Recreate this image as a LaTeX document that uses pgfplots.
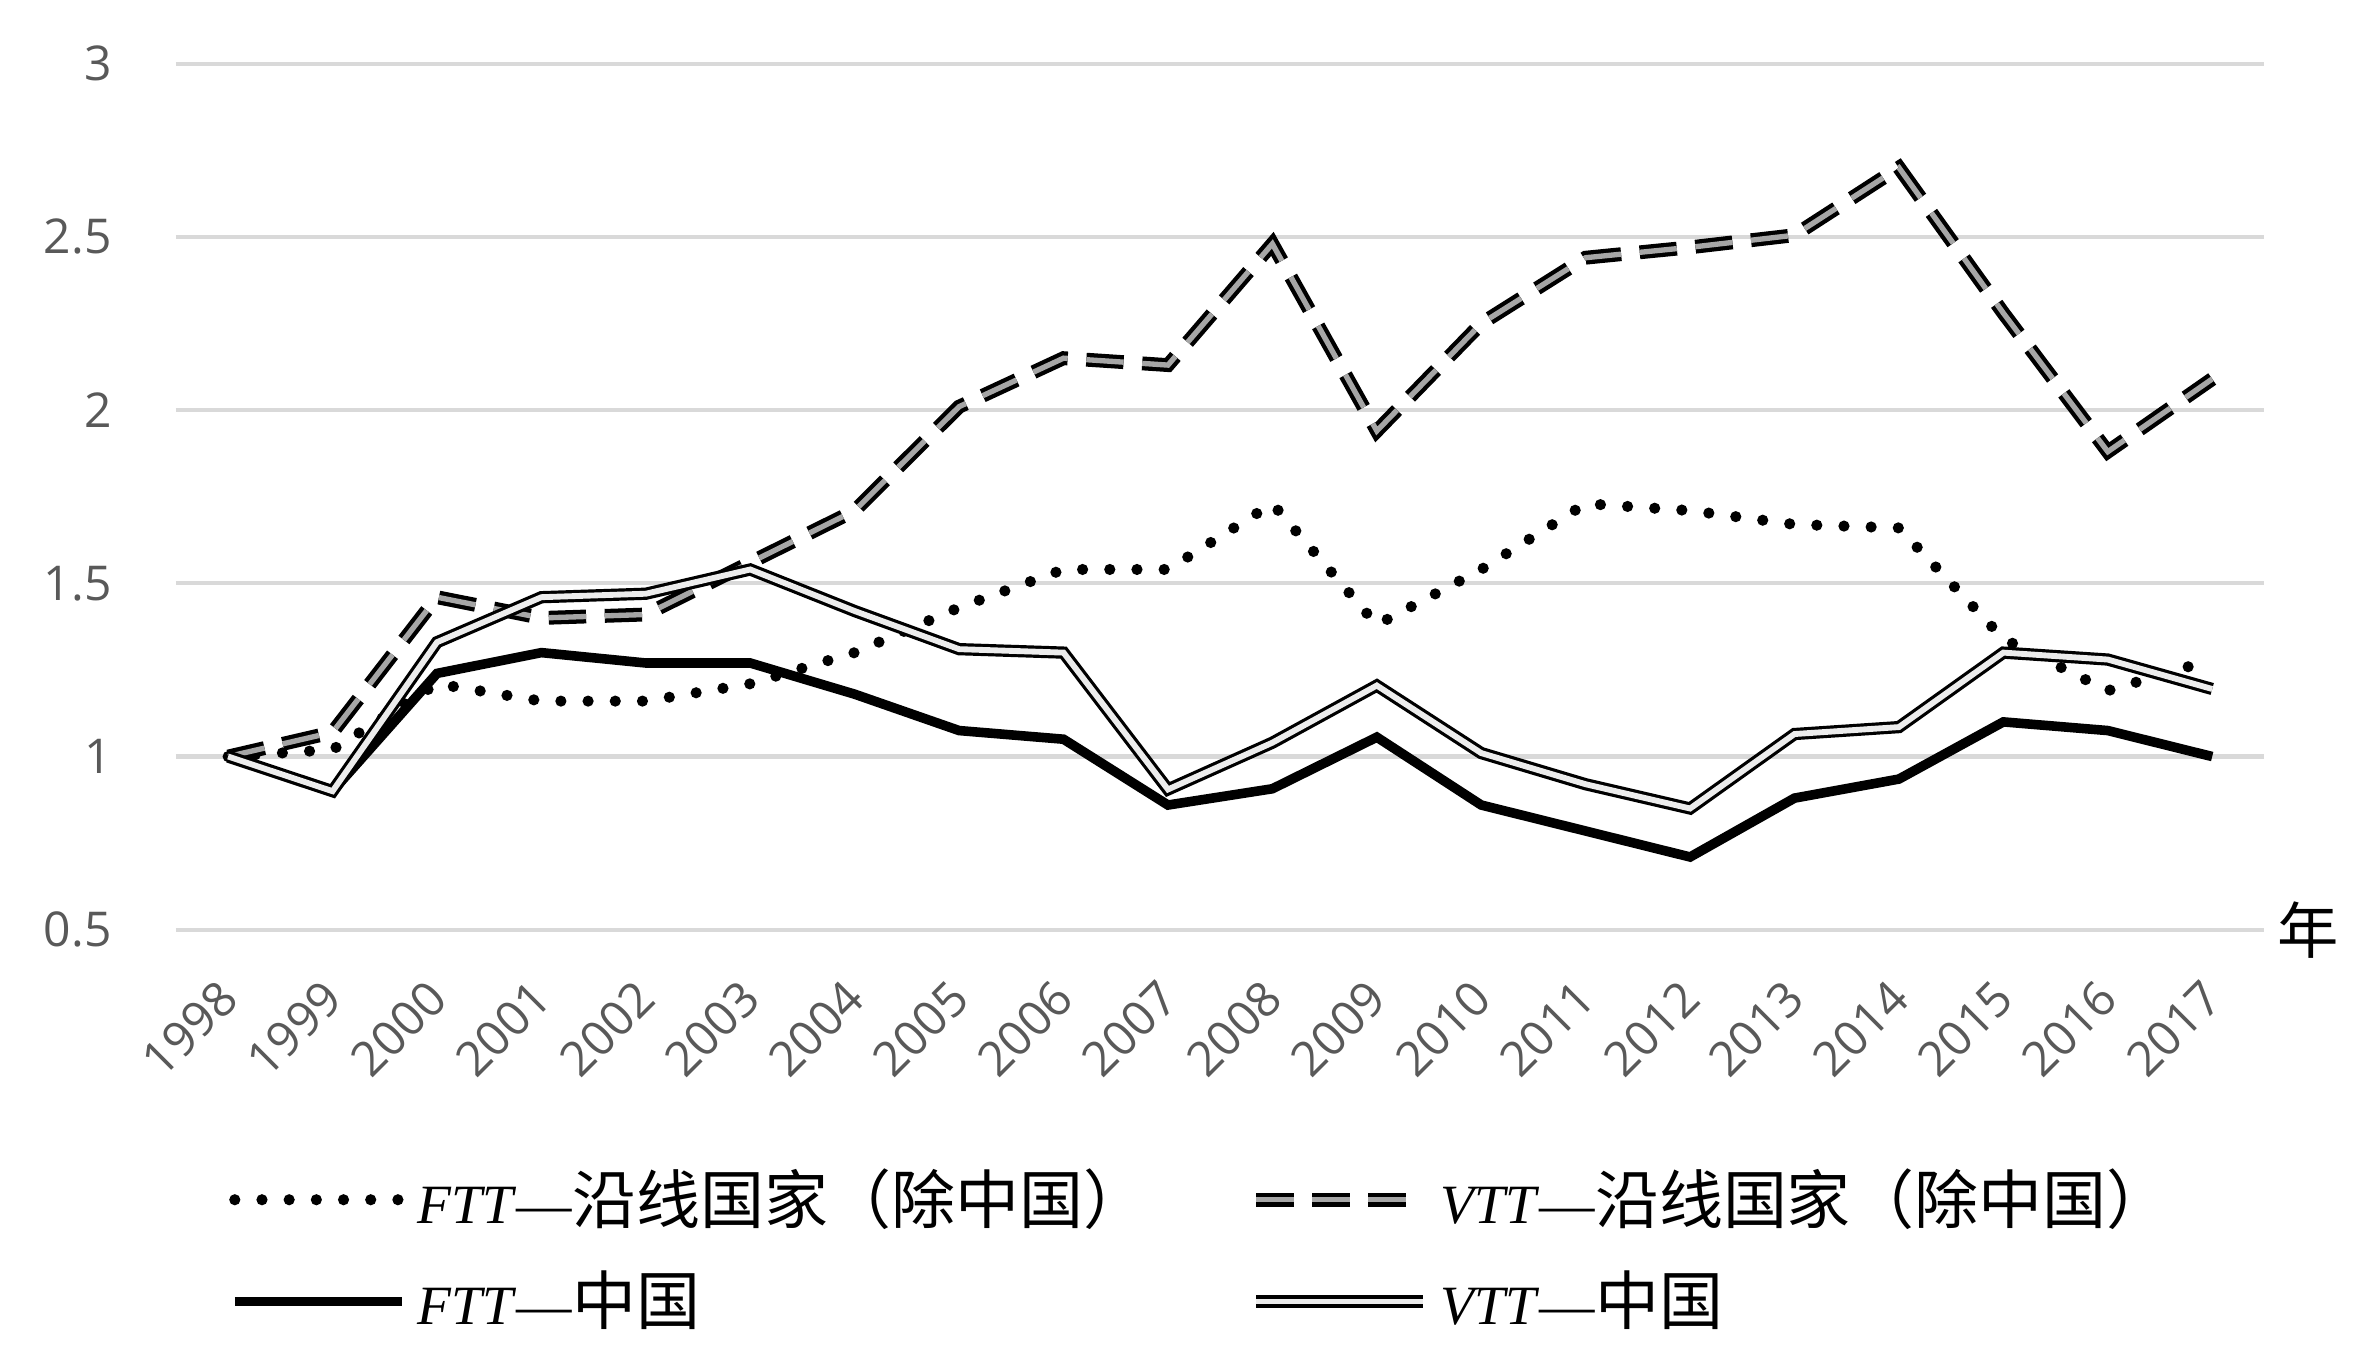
\documentclass[border=0pt]{standalone}
\usepackage{fontspec}
\usepackage{pgfplots}
\pgfplotsset{compat=1.18}
\setmainfont{Liberation Serif}
\newfontfamily\cjk{Noto Sans CJK SC}
\newfontfamily\tickfont{Open Sans}
\definecolor{gridc}{HTML}{D9D9D9}
\definecolor{tickc}{HTML}{595959}
\newcommand{\zh}[1]{{\cjk\fontsize{12}{12}\selectfont #1}}
\begin{document}
\begin{tikzpicture}
\useasboundingbox (-1.16cm,-2.78cm) rectangle (14.44cm,6.13cm);
\begin{axis}[
  width=13.77cm, height=5.71cm, scale only axis,
  xmin=-0.5, xmax=19.5, ymin=0.5, ymax=3,
  axis line style={draw=none},
  ytick={0.5,1,1.5,2,2.5,3},
  yticklabels={0.5,1,1.5,2,2.5,3},
  xtick={0,...,19},
  xticklabels={1998,1999,2000,2001,2002,2003,2004,2005,2006,2007,2008,2009,2010,2011,2012,2013,2014,2015,2016,2017},
  major tick length=0pt,
  ymajorgrids, grid style={gridc, line width=0.8pt},
  tick label style={font=\tickfont\fontsize{9}{10}\selectfont, text=tickc},
  yticklabel style={xshift=-0.3cm},
  xticklabel style={xshift=-0.08cm, yshift=-0.14cm, rotate=45, anchor=north east},
  clip=false,
  legend columns=2,
  legend cell align=left,
  legend style={at={(0.025,-0.262)}, anchor=north west, draw=none, fill=none,
    inner sep=0pt, font=\fontsize{10.4}{12}\selectfont,
    /tikz/every even column/.append style={column sep=0.6cm},
    row sep=0.12cm},
  legend image code/.code={\draw[#1] (0cm,0cm) -- (1.1cm,0cm);},
]
\addplot[black, line width=2.1pt, line cap=round, dash pattern=on 0pt off 5.1pt] coordinates {
(0,1.00)(1,1.02)(2,1.21)(3,1.16)(4,1.16)(5,1.21)(6,1.30)(7,1.43)(8,1.54)(9,1.54)
(10,1.73)(11,1.38)(12,1.54)(13,1.73)(14,1.71)(15,1.67)(16,1.66)(17,1.34)(18,1.19)(19,1.28)};
\addlegendentry{\textit{FTT}—\zh{沿线国家（除中国）}}
\addplot[black, line width=0.8pt, double=gray!70, double distance=1.0pt, dash pattern=on 7pt off 3.5pt] coordinates {
(0,1.00)(1,1.07)(2,1.46)(3,1.40)(4,1.41)(5,1.56)(6,1.71)(7,2.01)(8,2.15)(9,2.13)
(10,2.48)(11,1.94)(12,2.25)(13,2.44)(14,2.47)(15,2.505)(16,2.70)(17,2.28)(18,1.88)(19,2.09)};
\addlegendentry{\textit{VTT}—\zh{沿线国家（除中国）}}
\addplot[black, line width=1.8pt] coordinates {
(0,1.00)(1,0.90)(2,1.24)(3,1.30)(4,1.27)(5,1.27)(6,1.18)(7,1.075)(8,1.05)(9,0.86)
(10,0.907)(11,1.056)(12,0.86)(13,0.785)(14,0.71)(15,0.88)(16,0.935)(17,1.10)(18,1.075)(19,1.00)};
\addlegendentry{\textit{FTT}—\zh{中国}}
\addplot[black, line width=0.6pt, double=gray!15, double distance=1.1pt] coordinates {
(0,1.00)(1,0.90)(2,1.33)(3,1.46)(4,1.47)(5,1.54)(6,1.42)(7,1.31)(8,1.30)(9,0.905)
(10,1.04)(11,1.205)(12,1.01)(13,0.92)(14,0.85)(15,1.065)(16,1.085)(17,1.30)(18,1.28)(19,1.195)};
\addlegendentry{\textit{VTT}—\zh{中国}}
\node[anchor=west, font=\cjk\fontsize{11.5}{12}\selectfont, inner sep=0pt] at (rel axis cs:1,0) [xshift=0.08cm] {年};
\end{axis}
\end{tikzpicture}
\end{document}
